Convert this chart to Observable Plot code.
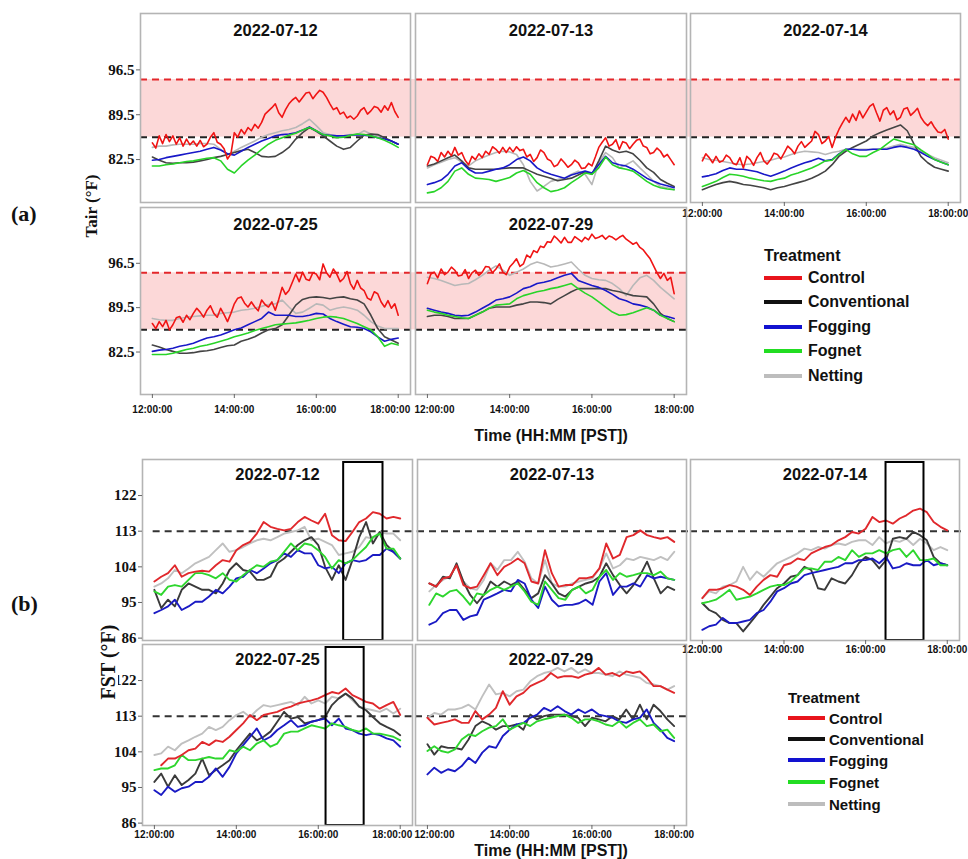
<!DOCTYPE html>
<html><head><meta charset="utf-8">
<script src="https://cdn.jsdelivr.net/npm/d3@7"></script>
<script src="https://cdn.jsdelivr.net/npm/@observablehq/plot@0.6"></script>
<style>
body{margin:0;background:#fff;}
#root{position:relative;width:968px;height:859px;overflow:hidden;background:#fff;font-family:"Liberation Sans",Arial,sans-serif;color:#111;}
.lbl{position:absolute;white-space:nowrap;}
.rot{position:absolute;white-space:nowrap;transform:translate(-50%,-50%) rotate(-90deg);}
.leg{position:absolute;font-weight:bold;white-space:nowrap;}
.sw{position:absolute;height:4px;}
</style></head><body><div id="root"></div>
<script>
// ---------------- data ----------------
const treatments = ["Control", "Conventional", "Fogging", "Fognet", "Netting"];
const dates = ["2022-07-12", "2022-07-13", "2022-07-14", "2022-07-25", "2022-07-29"];
const minutes10 = d3.range(0, 361, 10);   // 12:00 .. 18:00 every 10 min
const minutes5 = d3.range(0, 361, 5);     // 12:00 .. 18:00 every 5 min (Tair control)
const timeTicks = [12, 14, 16, 18];
const tairTicks = [82.5, 89.5, 96.5];
const fstTicks = [86, 95, 104, 113, 122];
const tairBand = [86, 95];        // comfort band (°F)
const fstThreshold = 113;
const boxes = [
  {date: "2022-07-12", start: 16.62, end: 17.58},
  {date: "2022-07-14", start: 16.50, end: 17.43},
  {date: "2022-07-25", start: 16.19, end: 17.12}
];

// Tair (°F)
const tair0712 = {
  Control: [85.1,84.3,86.2,85.0,86.4,85.3,86.2,84.9,85.9,84.6,85.7,84.8,
    85.4,84.6,85.5,84.5,84.9,86.0,86.7,85.2,84.9,84.2,82.6,83.4,
    86.7,86.0,87.2,86.5,87.5,87.0,88.0,87.4,88.3,89.6,90.1,90.6,
    91.2,89.8,89.1,90.3,91.2,91.8,92.2,91.5,92.2,92.9,93.0,92.0,
    92.7,93.3,93.0,92.2,91.2,90.3,90.6,89.6,89.9,89.0,89.3,88.8,
    89.3,90.2,90.6,89.6,90.1,90.8,90.6,89.9,90.9,90.2,91.4,90.0,89.1],
  Conventional: [82.9,82.4,82.0,81.9,82.0,82.0,82.1,82.3,82.5,82.8,83.0,83.3,83.6,83.9,84.1,83.6,83.0,82.9,83.0,83.6,84.4,85.7,86.7,87.5,86.9,86.2,85.4,84.6,84.1,84.4,85.4,86.3,86.5,86.4,85.9,85.4,84.9],
  Fogging: [82.4,82.5,82.8,83.0,83.2,83.4,83.6,83.8,84.1,84.4,84.0,83.4,83.2,83.8,84.4,84.9,85.4,85.8,86.2,86.4,86.5,86.7,87.1,87.6,87.0,86.4,86.3,86.2,86.2,86.3,86.4,86.3,86.2,85.9,85.7,85.4,84.9],
  Fognet: [81.5,81.5,81.7,81.8,82.0,82.2,82.3,82.5,82.7,82.8,82.3,81.0,80.4,81.5,82.4,83.2,84.1,84.9,85.5,85.9,86.3,86.6,87.1,87.5,87.0,86.4,86.2,85.9,86.0,86.3,86.5,86.4,86.2,85.9,85.5,85.0,84.4],
  Netting: [84.4,84.6,84.6,84.8,84.9,84.9,84.9,85.0,85.0,84.9,84.1,83.3,83.8,84.4,84.9,85.4,86.0,86.4,86.7,87.0,87.2,87.5,88.1,88.8,87.8,86.7,86.4,86.2,86.2,86.4,86.4,87.0,86.5,86.2,85.8,85.4,84.9]
};
const tair0713 = {
  Control: [81.7,83.0,82.8,82.2,83.6,82.9,83.8,83.1,84.4,83.2,83.6,82.4,
    81.7,83.0,82.5,83.4,82.8,83.8,83.3,84.5,84.1,83.5,84.4,83.6,
    84.4,83.7,84.5,83.9,84.1,82.9,83.3,82.2,82.8,84.0,83.6,82.6,
    82.3,81.4,81.7,82.6,82.0,81.3,81.7,82.4,82.0,81.1,81.2,81.9,
    81.5,82.9,84.4,85.2,85.9,84.6,84.9,85.6,84.1,85.3,85.1,84.2,
    84.9,85.5,85.7,84.6,84.4,83.4,83.6,84.3,83.8,82.9,83.3,82.5,81.7],
  Conventional: [81.5,81.8,82.3,82.8,83.2,82.3,81.2,81.0,81.0,81.0,81.0,81.1,81.2,81.2,81.2,80.7,80.2,79.9,79.6,79.2,79.4,79.6,80.1,80.6,80.2,82.3,84.6,84.0,83.6,83.8,83.4,82.4,81.2,80.5,79.4,78.8,78.3],
  Fogging: [78.6,78.9,79.3,80.2,81.5,82.0,81.0,80.4,80.4,80.7,81.0,81.2,81.7,82.5,82.9,82.3,81.2,80.6,80.2,79.9,79.6,80.1,80.4,80.7,80.4,81.7,83.0,82.0,81.7,81.5,81.0,80.3,79.6,79.1,78.7,78.4,78.1],
  Fognet: [77.3,77.5,78.1,79.1,80.7,81.2,80.2,79.6,79.5,79.4,79.1,79.4,79.7,80.4,80.8,80.2,78.9,78.1,77.5,77.7,78.1,78.9,79.6,80.4,80.2,81.2,82.9,81.7,81.2,81.0,80.7,79.9,79.1,78.5,78.1,77.9,77.8],
  Netting: [81.2,81.7,82.1,82.5,82.8,82.1,81.5,82.3,82.8,83.2,83.6,83.8,83.7,83.3,81.7,79.1,77.6,78.3,79.1,79.4,79.6,80.2,80.7,80.2,78.6,82.0,83.6,82.8,81.2,81.7,82.3,81.2,80.2,79.1,78.3,78.1,77.8]
};
const tair0714 = {
  Control: [82.3,83.4,82.8,82.0,83.0,82.1,82.3,83.2,82.8,81.9,81.7,82.8,
    81.2,83.0,82.5,81.6,82.8,83.6,82.3,81.8,82.5,83.5,83.3,82.6,
    83.6,84.6,84.1,83.4,84.6,85.3,84.4,84.9,85.4,86.9,86.4,85.0,
    85.4,86.1,84.4,86.0,87.2,88.2,89.1,88.3,89.6,88.6,90.1,89.0,
    89.9,90.8,91.2,89.8,88.5,90.2,90.6,89.5,90.1,88.7,89.1,90.4,
    90.6,89.4,89.9,90.5,89.1,88.3,87.8,88.4,87.5,86.8,86.7,87.2,85.7],
  Conventional: [77.8,78.2,78.6,78.9,79.1,78.9,78.6,78.5,78.3,78.1,77.8,78.1,78.3,78.6,78.9,79.2,79.6,80.1,80.7,81.7,83.0,83.8,84.4,84.9,85.4,86.2,86.7,87.1,87.5,87.9,87.0,84.9,83.0,82.0,81.3,81.0,80.7],
  Fogging: [79.8,80.0,80.3,80.8,81.2,81.0,81.0,80.8,80.6,80.2,79.9,80.3,80.7,81.2,81.6,82.0,82.3,82.7,82.3,82.5,83.4,84.1,84.1,84.0,84.0,84.1,84.1,84.1,84.4,84.6,84.4,84.1,83.6,83.0,82.5,82.1,81.7],
  Fognet: [78.3,78.7,79.1,79.7,80.2,80.1,79.9,79.6,79.4,79.2,79.1,79.4,79.6,80.1,80.4,80.8,81.2,81.7,82.3,82.4,83.3,84.1,83.4,83.0,83.0,83.6,84.1,84.9,85.7,85.4,85.1,84.8,84.0,83.3,82.5,82.1,81.7],
  Netting: [82.8,82.5,82.4,82.2,82.0,81.8,81.7,81.8,82.0,82.2,82.4,82.7,82.9,83.3,83.6,83.8,83.7,83.6,83.3,83.6,83.8,84.1,84.1,84.1,84.1,84.1,84.1,84.3,84.6,84.9,84.6,84.4,83.8,83.3,82.8,82.4,82.0]
};
const tair0725 = {
  Control: [87.0,86.2,87.3,86.5,87.5,86.0,86.8,87.9,88.1,87.2,88.3,87.6,
    88.6,89.4,88.8,88.0,89.1,89.8,88.6,88.0,89.4,88.4,87.3,88.6,
    90.1,91.0,91.2,90.2,89.6,90.4,89.6,89.0,90.7,90.0,89.6,90.4,
    89.1,90.8,92.7,91.6,92.2,93.5,94.8,93.6,95.1,94.0,93.8,95.0,
    94.8,93.9,96.4,95.0,94.3,95.6,94.8,93.6,94.1,95.2,93.3,92.4,
    93.8,92.6,92.2,91.0,90.7,92.0,91.7,90.4,89.6,90.6,89.4,90.1,88.3],
  Conventional: [83.6,83.3,82.9,82.6,82.3,82.3,82.4,82.6,82.7,82.9,83.2,83.5,83.6,84.2,84.5,84.9,85.5,86.0,86.2,86.8,88.3,89.9,90.8,91.1,91.2,91.1,90.9,91.1,91.2,90.9,90.7,90.1,88.3,86.2,84.9,84.4,83.9],
  Fogging: [82.6,82.8,82.9,83.1,83.4,83.6,83.9,84.3,84.7,84.9,85.2,85.6,86.0,86.3,86.8,87.3,87.8,88.8,88.3,88.3,88.3,88.1,88.1,88.3,88.6,88.5,87.8,87.3,86.9,86.5,86.4,86.2,85.7,84.9,84.2,84.5,84.7],
  Fognet: [82.1,82.1,82.1,82.3,82.6,82.9,83.1,83.4,83.6,83.9,84.2,84.5,84.9,85.2,85.5,85.9,86.2,86.5,86.8,86.9,87.0,87.1,87.3,87.5,87.8,88.0,88.1,88.0,87.8,87.4,87.0,86.5,86.0,84.9,83.4,83.9,83.6],
  Netting: [87.8,87.6,87.5,87.5,87.8,88.0,88.1,88.2,88.3,88.3,88.6,88.7,88.8,89.1,89.2,89.4,89.7,90.0,90.1,90.7,89.6,88.6,88.8,89.4,90.1,89.9,89.1,89.4,89.6,89.4,89.1,88.3,87.3,86.6,86.2,86.2,86.2]
};
const tair0729 = {
  Control: [93.3,94.8,95.1,94.2,95.6,94.7,95.1,95.9,95.4,94.5,94.6,95.5,
    94.1,95.0,95.4,94.6,95.1,96.0,95.9,95.0,95.6,96.4,95.1,94.7,
    95.9,96.5,97.2,96.0,96.4,97.8,97.4,98.5,98.2,99.2,99.0,99.9,
    99.8,100.8,100.3,99.7,100.6,99.8,99.8,100.7,100.3,99.9,100.6,100.2,
    101.1,100.4,100.6,100.9,100.3,100.8,100.6,100.2,100.6,100.9,100.3,99.9,
    99.5,99.8,99.0,98.6,97.9,97.2,96.1,95.0,94.1,94.9,93.8,94.3,91.7],
  Conventional: [88.1,88.3,88.3,88.1,87.8,87.8,87.8,88.3,88.8,89.4,89.6,89.6,89.6,89.9,90.1,90.4,90.4,90.3,90.1,90.8,91.4,92.0,92.5,92.5,92.5,92.5,92.5,92.2,92.0,91.7,91.4,91.3,91.2,90.1,88.6,87.8,87.3],
  Fogging: [89.4,89.1,88.8,88.6,88.3,88.2,88.3,88.8,89.4,90.0,90.7,90.9,91.2,91.8,92.5,92.8,93.3,93.5,93.8,94.2,94.6,94.9,93.8,93.4,93.0,92.7,92.2,91.6,90.9,90.6,90.1,89.9,89.6,89.1,88.3,88.1,87.8],
  Fognet: [89.1,88.8,88.6,88.3,88.1,87.9,87.8,88.3,88.8,89.4,89.9,90.0,90.1,90.9,91.4,91.7,92.0,92.2,92.5,92.7,93.0,93.3,92.5,91.8,91.2,90.4,89.6,88.8,88.3,88.4,88.7,89.1,89.5,89.1,88.3,87.8,87.3],
  Netting: [94.3,94.1,93.8,93.4,93.0,93.2,93.3,93.9,94.6,95.4,96.1,95.4,94.6,95.1,95.6,96.3,96.7,96.4,95.9,96.1,96.4,96.7,95.6,94.6,94.1,93.9,93.8,93.3,92.5,91.4,93.0,94.2,94.6,93.8,92.7,91.8,90.9]
};

// FST (°F), every 10 min
const fst0712 = {
  Control: [100.3,101.5,102.4,104.4,101.5,102.4,102.8,103.0,102.8,104.4,105.7,105.3,108.2,109.5,110.3,112.4,115.3,114.1,113.6,113.2,113.6,115.3,116.6,115.7,114.9,117.4,112.0,110.7,110.5,112.8,115.3,116.2,117.8,117.4,116.2,116.6,116.2],
  Conventional: [98.2,93.6,95.7,94.0,98.2,99.8,99.0,98.2,98.2,97.3,99.8,103.2,104.9,103.2,102.8,100.7,100.7,101.5,104.9,106.1,107.8,109.5,110.7,111.5,109.5,104.0,100.7,104.4,100.7,105.7,111.5,115.3,109.9,112.8,109.5,107.8,106.1],
  Fogging: [92.3,93.1,94.0,95.7,93.1,94.0,95.2,95.2,96.5,98.2,97.3,99.0,101.1,101.5,103.2,102.4,103.6,104.9,105.7,107.4,106.5,108.2,107.4,107.4,104.4,103.6,104.0,102.4,104.9,105.7,105.3,105.7,107.0,107.0,108.6,107.8,106.1],
  Fognet: [97.8,96.9,99.0,99.4,99.0,100.7,102.4,102.4,101.9,101.1,102.4,100.7,100.3,101.9,103.2,104.4,104.0,105.3,105.7,107.8,109.9,108.2,109.9,109.5,108.2,106.5,103.6,105.7,104.9,105.7,107.4,109.0,111.5,112.4,108.6,108.6,106.1],
  Netting: [99.0,99.8,101.1,103.2,102.4,103.6,104.9,105.7,106.5,108.2,109.9,107.8,108.2,109.0,109.9,110.7,111.1,110.7,111.5,112.4,112.8,113.2,114.1,110.7,111.1,110.3,109.5,107.0,107.4,107.8,109.0,111.5,111.1,112.8,112.4,112.4,110.7]
};
const fst0713 = {
  Control: [99.8,99.0,101.1,101.5,104.4,99.4,98.6,99.0,101.9,104.9,101.9,104.0,104.9,106.1,104.9,100.3,99.8,108.2,102.4,99.0,99.4,99.4,101.1,101.1,101.5,103.6,109.9,106.1,107.0,111.5,112.0,113.2,112.0,111.5,111.1,111.5,110.3],
  Conventional: [99.8,99.0,101.5,101.1,104.9,100.3,96.9,94.8,96.9,100.3,99.0,100.3,99.4,100.3,98.2,96.1,97.3,101.9,99.8,97.3,96.5,98.2,99.0,99.8,100.3,101.5,104.9,101.9,99.4,97.3,99.4,101.9,105.3,101.1,97.3,99.0,98.2],
  Fogging: [89.4,90.2,92.3,93.1,93.1,90.6,91.5,91.9,95.7,96.5,97.3,98.2,97.8,100.7,99.8,95.7,93.6,99.0,95.7,94.0,94.4,94.4,94.8,95.7,94.4,100.3,102.4,96.9,99.0,99.0,99.8,99.0,101.9,101.1,101.5,101.1,100.7],
  Fognet: [94.4,97.3,96.5,97.8,98.2,96.5,94.4,97.3,96.9,98.2,99.0,98.2,99.0,99.8,97.8,95.2,94.4,100.3,98.2,96.1,95.7,98.2,99.0,97.3,98.2,101.5,103.2,100.7,102.4,101.5,101.9,102.4,102.4,101.9,102.8,101.1,100.7],
  Netting: [97.8,99.4,100.7,101.5,104.4,100.3,98.6,98.2,100.7,104.9,103.2,105.7,105.7,107.8,105.3,101.1,99.8,105.7,99.8,99.0,99.0,99.8,100.3,100.7,101.1,103.6,107.4,103.6,104.4,106.1,105.7,106.5,106.1,105.7,106.5,105.7,107.8]
};
const fst0714 = {
  Control: [96.1,98.2,98.2,98.6,99.4,99.0,98.2,96.9,99.0,100.7,101.9,101.5,104.4,104.9,106.1,105.7,107.4,108.2,109.0,109.5,110.7,111.5,112.8,112.4,113.6,116.6,115.3,115.7,114.9,116.2,117.0,118.2,118.7,117.8,115.3,114.1,113.2],
  Conventional: [94.8,93.1,92.3,90.6,89.8,89.8,87.7,89.8,91.9,94.4,96.5,98.6,99.8,101.5,101.9,104.0,103.2,98.6,98.2,101.1,100.3,99.8,101.9,104.9,106.5,105.7,103.6,105.7,111.1,111.5,111.1,112.8,112.0,110.7,106.5,104.9,104.4],
  Fogging: [88.1,89.0,89.4,91.1,89.8,89.8,90.2,90.6,92.3,93.1,95.2,97.8,98.6,99.8,100.3,101.9,102.4,102.8,103.2,103.6,104.0,104.9,104.9,105.7,105.7,106.1,104.9,106.5,103.6,104.0,104.9,104.4,104.4,105.7,104.4,104.9,104.4],
  Fognet: [94.8,95.2,95.7,96.9,98.2,95.7,96.1,96.5,97.3,98.2,99.0,99.4,99.4,100.3,101.9,103.6,103.6,103.2,105.3,105.3,106.5,105.7,108.2,106.5,107.4,107.4,108.2,107.4,108.2,108.6,106.5,108.2,105.7,105.7,106.1,104.4,104.4],
  Netting: [96.1,97.8,97.3,99.0,99.4,100.3,104.0,100.7,102.8,101.5,103.2,104.9,105.7,106.5,107.4,108.6,108.2,109.0,108.6,109.5,109.9,109.5,110.3,110.7,110.7,109.5,111.5,109.9,110.7,110.3,111.1,109.5,111.1,109.9,108.2,109.0,108.2]
};
const fst0725 = {
  Control: [null,100.6,102.3,102.3,103.2,104.4,104.8,106.5,105.7,106.9,106.5,107.8,109.5,111.2,113.3,112.0,113.3,113.7,114.1,114.9,115.4,116.2,116.6,117.0,117.5,118.3,119.1,118.7,120.0,118.3,117.5,116.6,116.2,114.9,115.8,116.6,113.3],
  Conventional: [96.4,98.5,95.2,98.1,95.6,96.9,98.5,102.3,98.1,99.4,100.6,101.9,104.4,106.5,108.6,106.9,107.8,109.1,111.6,114.1,112.4,112.8,111.2,111.6,112.0,112.8,115.8,117.5,118.7,117.5,115.4,114.5,112.8,111.2,110.3,109.5,108.2],
  Fogging: [94.3,93.1,95.2,93.9,94.8,95.2,96.4,96.4,97.7,99.8,97.7,100.2,103.6,105.7,107.8,109.9,106.9,107.8,109.5,110.7,112.0,110.3,110.7,111.6,112.0,112.4,110.7,112.4,109.9,109.5,108.6,108.2,108.6,108.2,107.4,106.9,105.3],
  Fognet: [99.4,99.8,99.8,100.6,103.2,101.9,101.9,102.3,102.7,102.3,102.3,104.4,104.0,105.3,104.4,106.1,106.9,105.3,106.1,108.6,109.1,109.1,109.9,110.7,110.3,109.9,111.2,110.7,110.3,109.5,109.1,109.9,108.6,108.6,108.2,107.8,106.9],
  Netting: [103.2,103.6,105.3,104.4,106.1,106.9,107.8,108.6,110.3,109.5,110.3,112.0,113.3,114.1,112.8,114.5,115.8,115.4,115.8,116.2,116.6,115.8,117.9,116.2,117.0,116.2,117.9,117.5,118.7,117.0,115.4,114.9,114.5,114.1,114.9,113.7,114.9]
};
const fst0729 = {
  Control: [112.6,110.9,111.3,111.7,112.2,111.3,111.3,114.3,112.2,113.4,115.1,119.3,115.9,118.0,118.9,120.6,121.4,122.2,123.9,122.7,123.1,123.1,122.7,123.5,123.9,125.2,123.5,123.9,123.1,124.3,123.9,124.3,122.7,120.6,120.6,119.7,118.9],
  Conventional: [105.9,103.3,105.4,105.0,105.0,104.6,107.1,110.5,111.7,110.9,109.6,110.5,110.5,110.9,109.6,113.4,112.2,113.0,113.4,113.4,113.4,113.0,112.6,110.5,112.6,112.2,111.7,113.0,112.2,114.7,112.2,115.9,112.2,115.9,114.3,112.2,110.5],
  Fogging: [98.3,100.0,98.7,99.6,99.1,100.4,102.5,101.2,103.8,105.4,105.0,108.0,109.6,110.9,111.3,112.6,113.4,115.1,114.3,115.5,114.3,113.4,114.7,113.8,114.7,113.4,113.0,112.6,111.7,111.3,112.2,112.6,114.7,111.3,109.6,107.5,106.7],
  Fognet: [104.2,105.4,104.2,103.8,104.6,107.1,108.4,108.0,109.2,110.1,110.5,112.2,109.6,110.5,111.3,110.5,111.7,112.2,112.6,113.0,113.4,112.6,111.3,112.2,112.2,111.7,110.9,110.5,111.7,110.1,111.3,112.2,110.5,110.9,109.2,109.6,107.5],
  Netting: [112.6,113.8,113.4,114.7,114.7,115.1,115.9,114.7,118.0,121.0,118.5,118.9,118.0,119.3,119.7,121.8,123.1,123.9,124.3,125.2,124.3,125.2,123.9,124.8,123.9,123.9,123.5,123.1,124.3,123.5,123.1,122.7,121.4,121.0,120.6,119.7,120.6]
};

// ---------------- styling ----------------
const colorsA = {Control: "#f01414", Conventional: "#444444", Fogging: "#1818c8", Fognet: "#28d428", Netting: "#b8b8b8"};
const colorsB = {Control: "#e0282c", Conventional: "#3a3a3a", Fogging: "#1a1ac4", Fognet: "#2ed62e", Netting: "#c0c0c0"};
const legendColors = {Control: "#e8141c", Conventional: "#111", Fogging: "#1212d0", Fognet: "#22dd22", Netting: "#bdbdbd"};
const drawOrder = ["Netting", "Conventional", "Fogging", "Fognet", "Control"];
const SANS = "Liberation Sans, Arial, sans-serif";
const SERIF = "Liberation Serif, Times New Roman, serif";

const root = document.getElementById("root");

function toRows(obj, kind) {
  const out = [];
  for (const tr of treatments) {
    const mins = (kind === "tair" && tr === "Control") ? minutes5 : minutes10;
    obj[tr].forEach((v, i) => out.push({treatment: tr, t: 12 + mins[i] / 60, v}));
  }
  return out;
}

function panel(spec, kind) {
  const [fx, fy, fw, fh] = spec.frame;
  const mL = 60, mR = 10, mT = 2, mB = 26;
  const rows = toRows(spec.data, kind);
  const colors = kind === "tair" ? colorsA : colorsB;
  const marks = [];
  const ext = spec.extend ? -5 : 0;
  if (kind === "tair") {
    marks.push(Plot.rect([tairBand], {y1: d => d[0], y2: d => d[1], fill: "#fcd8d8", insetRight: ext}));
    marks.push(Plot.ruleY([tairBand[1]], {stroke: "#e3272b", strokeWidth: 2, strokeDasharray: "7,5", insetRight: ext}));
    marks.push(Plot.ruleY([tairBand[0]], {stroke: "#222", strokeWidth: 2, strokeDasharray: "7,5", insetRight: ext}));
  } else {
    const x1 = spec.yAxis ? 11.97 : 11.71;
    marks.push(Plot.ruleY([{y: fstThreshold, x1, x2: 18.30}], {y: "y", x1: "x1", x2: "x2", stroke: "#333", strokeWidth: 2, strokeDasharray: "7,5", insetRight: ext}));
  }
  for (const tr of drawOrder) {
    marks.push(Plot.line(rows.filter(d => d.treatment === tr), {
      x: "t", y: "v", stroke: colors[tr], strokeWidth: kind === "tair" ? 1.6 : 1.9, curve: "linear"
    }));
  }
  if (kind === "fst") {
    const bx = boxes.filter(b => b.date === spec.date);
    if (bx.length) marks.push(Plot.rect(bx, {x1: "start", x2: "end", fill: "none", stroke: "#000", strokeWidth: 2, insetTop: 3}));
  }
  marks.push(Plot.frame({stroke: "#b4b4b4", strokeWidth: 1.6}));
  marks.push(Plot.text([spec.date], {text: d => d, frameAnchor: "top", dy: kind === "tair" ? 11 : 9,
    fontSize: 16.5, fontWeight: "bold", fontFamily: SANS, fill: "#111"}));
  if (spec.yAxis) {
    marks.push(Plot.axisY(kind === "tair" ? tairTicks : fstTicks, {
      tickSize: 4, tickPadding: 2, fontSize: 15, fontFamily: SERIF, fontWeight: "bold",
      tickFormat: d => String(d), label: null, stroke: "#666"
    }));
  }
  if (spec.xAxis) {
    // tick marks
    marks.push(Plot.axisX(timeTicks, {tickSize: 4, tickFormat: () => "", label: null, stroke: "#666"}));
    // tick labels; outer labels nudged inward where panels sit side by side (as in the reference)
    for (const tk of timeTicks) {
      let dx = 0;
      if (tk === 18 && spec.col === 0) dx = -8;
      if (tk === 12 && spec.col === 1) dx = 7;
      marks.push(Plot.axisX([tk], {
        tickSize: 0, tickPadding: 4 + spec.xPad, dx, fontSize: 10, fontFamily: SANS, fontWeight: "bold",
        tickFormat: d => `${d}:00:00`, label: null
      }));
    }
  }
  const w = fw + mL + mR, h = fh + mT + mB;
  const svg = Plot.plot({
    width: w, height: h, marginLeft: mL, marginRight: mR, marginTop: mT, marginBottom: mB,
    style: {background: "transparent", overflow: "visible", fontFamily: SANS, color: "#111"},
    x: {domain: [11.71, 18.30], label: null, ...(spec.xAxis ? {} : {axis: null})},
    y: {domain: kind === "tair" ? [75.8, 105.3] : [85.4, 131.1], label: null, ...(spec.yAxis ? {} : {axis: null})},
    marks
  });
  const div = document.createElement("div");
  div.style.cssText = `position:absolute;left:${fx - mL}px;top:${fy - mT}px;width:${w}px;height:${h}px;`;
  div.appendChild(svg);
  root.appendChild(div);
}

const panelsA = [
  {date: dates[0], data: tair0712, frame: [140, 13, 270, 189], col: 0, yAxis: true, extend: true},
  {date: dates[1], data: tair0713, frame: [415, 13, 271, 189], col: 1, extend: true},
  {date: dates[2], data: tair0714, frame: [690, 13, 270, 189], col: 2, xAxis: true, xPad: 3},
  {date: dates[3], data: tair0725, frame: [140, 207, 270, 187], col: 0, yAxis: true, xAxis: true, xPad: 7, extend: true},
  {date: dates[4], data: tair0729, frame: [415, 207, 271, 187], col: 1, xAxis: true, xPad: 7}
];
const panelsB = [
  {date: dates[0], data: fst0712, frame: [142, 459, 270, 181], col: 0, yAxis: true, extend: true},
  {date: dates[1], data: fst0713, frame: [417, 459, 269, 181], col: 1, extend: true},
  {date: dates[2], data: fst0714, frame: [690, 459, 269, 181], col: 2, xAxis: true, xPad: 1, extend: true},
  {date: dates[3], data: fst0725, frame: [142, 644, 270, 181], col: 0, yAxis: true, xAxis: true, xPad: 1, extend: true},
  {date: dates[4], data: fst0729, frame: [415, 644, 271, 181], col: 1, xAxis: true, xPad: 1}
];
panelsA.forEach(p => panel(p, "tair"));
panelsB.forEach(p => panel(p, "fst"));

// ---------------- text & legends ----------------
function addText(html, css, cls = "lbl") {
  const d = document.createElement("div");
  d.className = cls; d.innerHTML = html; d.style.cssText += css;
  root.appendChild(d);
  return d;
}
addText("(a)", `left:11px;top:201px;font:bold 22px ${SERIF};`);
addText("(b)", `left:11px;top:591px;font:bold 22px ${SERIF};`);
addText("Tair (°F)", `left:92px;top:206px;font:bold 17px ${SERIF};`, "rot");
addText("FST (°F)", `left:108px;top:662px;font:bold 20px ${SERIF};background:#fff;line-height:20px;`, "rot");
addText("Time (HH:MM [PST])", `left:551px;top:436px;transform:translate(-50%,-50%);font:bold 16px ${SANS};`);
addText("Time (HH:MM [PST])", `left:551px;top:851px;transform:translate(-50%,-50%);font:bold 16px ${SANS};`);

function legend(x, titleY, rowYs, lineW, textX, fs) {
  addText("Treatment", `left:${x}px;top:${titleY}px;transform:translateY(-50%);font:bold ${fs}px ${SANS};`, "leg");
  treatments.forEach((tr, i) => {
    const s = document.createElement("div");
    s.className = "sw";
    s.style.cssText += `left:${x}px;top:${rowYs[i] - 2}px;width:${lineW}px;background:${legendColors[tr]};`;
    root.appendChild(s);
    addText(tr, `left:${textX}px;top:${rowYs[i]}px;transform:translateY(-50%);font:bold ${fs}px ${SANS};`, "leg");
  });
}
legend(764, 256, [278, 302, 327, 351, 376], 38, 808, 16);
legend(788, 697, [718, 739, 760, 782, 804], 37, 829, 15);
</script></body></html>
